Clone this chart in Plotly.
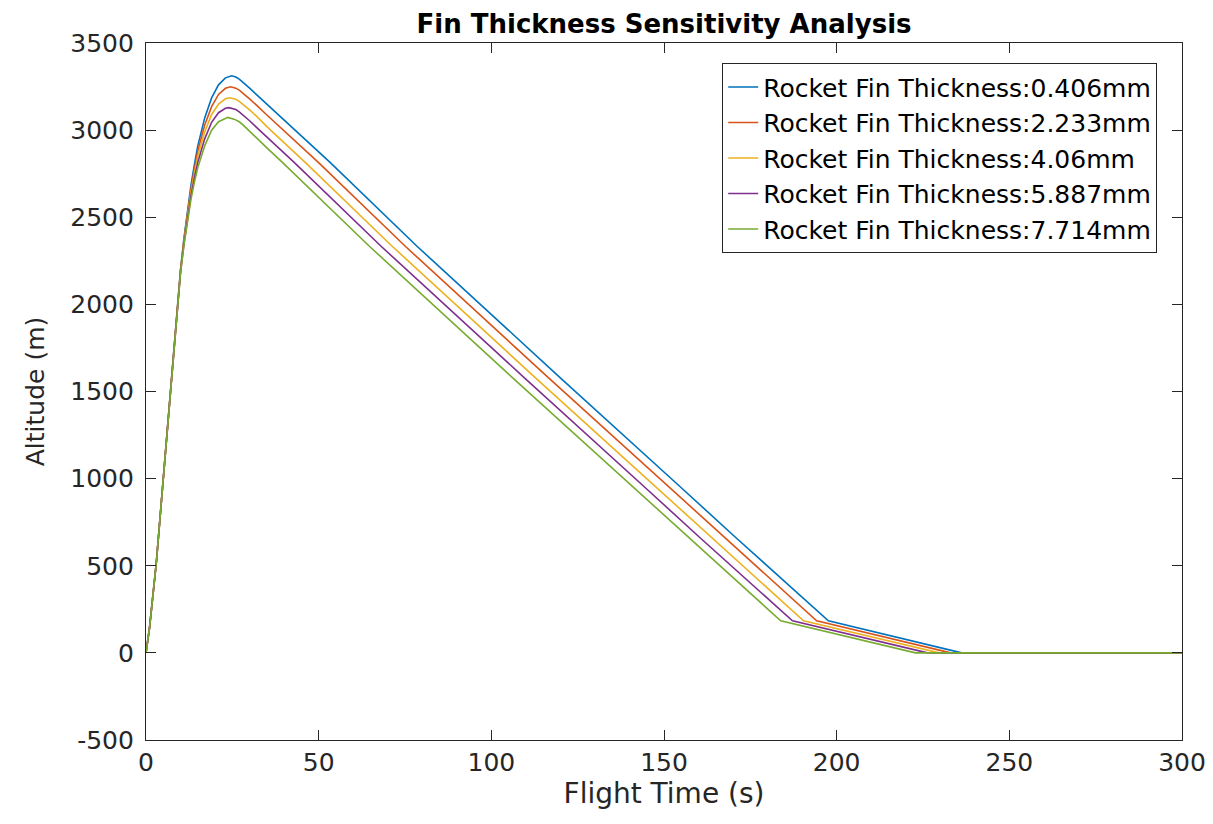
import plotly.graph_objects as go

labels = [
    "Rocket Fin Thickness:0.406mm",
    "Rocket Fin Thickness:2.233mm",
    "Rocket Fin Thickness:4.06mm",
    "Rocket Fin Thickness:5.887mm",
    "Rocket Fin Thickness:7.714mm",
]
colors = ["#0072BD", "#D95319", "#EDB120", "#7E2F8E", "#77AC30"]

t_0406 = [0, 1, 2, 3, 4, 5, 6, 7, 8, 9, 10, 11, 12, 13, 14, 15, 17, 19, 21, 23, 24.8, 26, 27, 28, 29, 30, 32, 35,
          53.3, 78.4, 119.9, 154.6, 170.6, 197.6, 236.2, 300]
h_0406 = [0, 140, 330, 520, 760, 1000, 1250, 1500, 1750, 1990, 2200, 2380, 2540, 2680, 2800, 2910, 3070, 3185, 3260, 3300, 3312, 3305, 3293, 3277, 3259, 3241, 3204, 3150,
          2815, 2335, 1580, 955, 665, 184, 0, 0]

t_2233 = [0, 1, 2, 3, 4, 5, 6, 7, 8, 9, 10, 11, 12, 13, 14, 15, 17, 19, 21, 23, 24.5, 26, 27, 28, 29, 30, 32, 35,
          49.9, 75.0, 116.5, 151.2, 167.2, 194.2, 233.0, 300]
h_2233 = [0, 140, 330, 520, 760, 1000, 1250, 1500, 1750, 1990, 2195, 2370, 2525, 2660, 2775, 2880, 3030, 3135, 3205, 3240, 3249, 3241, 3230, 3214, 3197, 3179, 3143, 3087,
          2815, 2335, 1580, 955, 665, 184, 0, 0]

t_4060 = [0, 1, 2, 3, 4, 5, 6, 7, 8, 9, 10, 11, 12, 13, 14, 15, 17, 19, 21, 23, 24.3, 26, 27, 28, 29, 30, 32, 35,
          46.1, 71.2, 112.7, 147.4, 163.4, 190.4, 229.7, 300]
h_4060 = [0, 140, 330, 520, 760, 1000, 1250, 1500, 1750, 1990, 2190, 2360, 2510, 2640, 2750, 2850, 2990, 3090, 3150, 3180, 3186, 3177, 3165, 3150, 3134, 3116, 3080, 3020,
          2815, 2335, 1580, 955, 665, 184, 0, 0]

t_5887 = [0, 1, 2, 3, 4, 5, 6, 7, 8, 9, 10, 11, 12, 13, 14, 15, 17, 19, 21, 23, 24.0, 26, 27, 28, 29, 30, 32, 35,
          42.9, 68.0, 109.5, 144.2, 160.2, 187.2, 226.3, 300]
h_5887 = [0, 140, 330, 520, 760, 1000, 1250, 1500, 1750, 1990, 2185, 2350, 2495, 2620, 2725, 2815, 2950, 3045, 3100, 3125, 3129, 3118, 3105, 3089, 3072, 3054, 3016, 2960,
          2815, 2335, 1580, 955, 665, 184, 0, 0]

t_7714 = [0, 1, 2, 3, 4, 5, 6, 7, 8, 9, 10, 11, 12, 13, 14, 15, 17, 19, 21, 23, 23.7, 25.5, 27, 28, 29, 30, 32, 35,
          39.5, 64.6, 106.1, 140.8, 156.8, 183.8, 222.8, 300]
h_7714 = [0, 140, 330, 520, 760, 1000, 1250, 1500, 1750, 1990, 2180, 2340, 2480, 2600, 2700, 2785, 2910, 3000, 3048, 3070, 3073, 3063, 3048, 3032, 3012, 2992, 2953, 2898,
          2815, 2335, 1580, 955, 665, 184, 0, 0]

series_t = [t_0406, t_2233, t_4060, t_5887, t_7714]
series_h = [h_0406, h_2233, h_4060, h_5887, h_7714]

x_ticks = [0, 50, 100, 150, 200, 250, 300]
x_tick_text = ["0", "50", "100", "150", "200", "250", "300"]
y_ticks = [-500, 0, 500, 1000, 1500, 2000, 2500, 3000, 3500]
y_tick_text = ["-500", "0", "500", "1000", "1500", "2000", "2500", "3000", "3500"]

FONT = "DejaVu Sans"
AX = "#262626"

fig = go.Figure()
for name, c, tx, hy in zip(labels, colors, series_t, series_h):
    fig.add_trace(go.Scatter(x=tx, y=hy, mode="lines", name=name,
                             line=dict(color=c, width=1.6)))

axis_common = dict(
    showgrid=False, zeroline=False, showline=True, linecolor=AX, linewidth=1.2,
    mirror="ticks", ticks="inside", ticklen=10, tickwidth=1.2, tickcolor=AX,
    tickfont=dict(family=FONT, size=25, color=AX),
    ticklabeloverflow="allow", automargin=False,
)

fig.update_layout(
    width=1197, height=808,
    margin=dict(l=138, r=23, t=35, b=76),
    paper_bgcolor="white", plot_bgcolor="white",
    title=dict(text="<b>Fin Thickness Sensitivity Analysis</b>", x=0.5, xref="paper",
               y=1 - 16 / 808, yref="container", yanchor="middle", xanchor="center",
               font=dict(family=FONT, size=26, color="black")),
    xaxis=dict(range=[0, 300], tickvals=x_ticks, ticktext=x_tick_text,
               title=dict(text="Flight Time (s)", standoff=6,
                          font=dict(family=FONT, size=28, color=AX)),
               **axis_common),
    yaxis=dict(range=[-500, 3500], tickvals=y_ticks, ticktext=y_tick_text,
               ticklabelstandoff=6,
               title=dict(text="Altitude (m)", standoff=18,
                          font=dict(family=FONT, size=25, color=AX)),
               **axis_common),
    legend=dict(x=(1157 - 146) / 1036, y=(740 - 63) / 697, xanchor="right", yanchor="top",
                bgcolor="white", bordercolor=AX, borderwidth=1.2,
                font=dict(family=FONT, size=25, color="black"),
                tracegroupgap=0),
    showlegend=True,
)

fig.write_html("out.html")
